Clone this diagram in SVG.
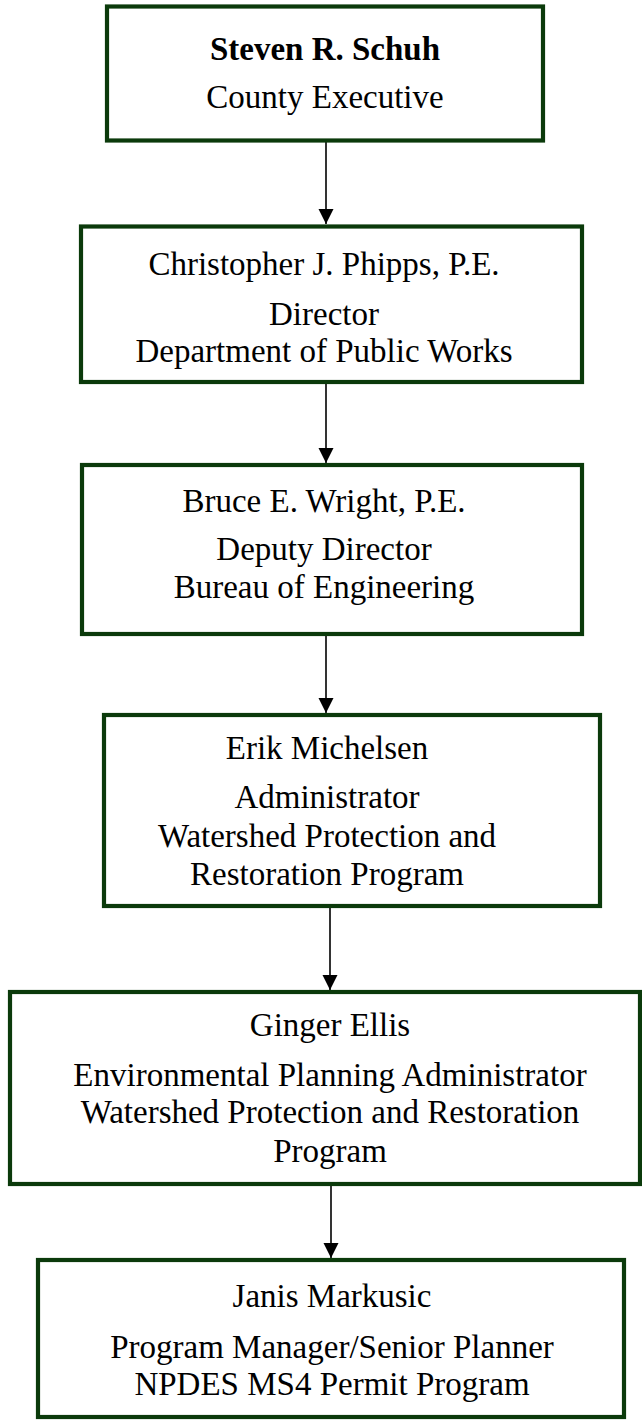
<svg xmlns="http://www.w3.org/2000/svg" width="642" height="1420" viewBox="0 0 642 1420">
<defs>
<style>
.box{fill:#ffffff;stroke:#0b3a0b;stroke-width:4.2}
.t{font-family:"Liberation Serif","Times New Roman",serif;font-size:33px;fill:#000;text-anchor:middle}
.b{font-weight:bold}
.c{stroke:#000;stroke-width:1.6;fill:none}
</style>
<marker id="ah" markerUnits="userSpaceOnUse" markerWidth="16" markerHeight="16" refX="15" refY="7.5" orient="auto">
<path d="M0,0 L15,7.5 L0,15 Z" fill="#000"/>
</marker>
</defs>
<rect width="642" height="1420" fill="#fff"/>
<g id="connectors">
<line class="c" x1="326" y1="142" x2="326" y2="224" marker-end="url(#ah)"/>
<line class="c" x1="326" y1="384" x2="326" y2="463" marker-end="url(#ah)"/>
<line class="c" x1="326" y1="636" x2="326" y2="713" marker-end="url(#ah)"/>
<line class="c" x1="330" y1="908" x2="330" y2="990" marker-end="url(#ah)"/>
<line class="c" x1="331" y1="1186" x2="331" y2="1258" marker-end="url(#ah)"/>
</g>
<g id="n1">
<rect class="box" x="107" y="6.5" width="436" height="134"/>
<text class="t b" x="325" y="60">Steven R. Schuh</text>
<text class="t" x="325" y="108">County Executive</text>
</g>
<g id="n2">
<rect class="box" x="81" y="226.5" width="501" height="155.5"/>
<text class="t" x="324" y="275">Christopher J. Phipps, P.E.</text>
<text class="t" x="324" y="325">Director</text>
<text class="t" x="324" y="362">Department of Public Works</text>
</g>
<g id="n3">
<rect class="box" x="82" y="465" width="500" height="169"/>
<text class="t" x="324" y="512">Bruce E. Wright, P.E.</text>
<text class="t" x="324" y="560">Deputy Director</text>
<text class="t" x="324" y="598">Bureau of Engineering</text>
</g>
<g id="n4">
<rect class="box" x="104" y="715" width="496" height="191"/>
<text class="t" x="327" y="759">Erik Michelsen</text>
<text class="t" x="327" y="808">Administrator</text>
<text class="t" x="327" y="847">Watershed Protection and</text>
<text class="t" x="327" y="885">Restoration Program</text>
</g>
<g id="n5">
<rect class="box" x="10" y="992" width="630" height="192"/>
<text class="t" x="330" y="1036">Ginger Ellis</text>
<text class="t" x="330" y="1086">Environmental Planning Administrator</text>
<text class="t" x="330" y="1123">Watershed Protection and Restoration</text>
<text class="t" x="330" y="1162">Program</text>
</g>
<g id="n6">
<rect class="box" x="38" y="1260" width="586" height="157"/>
<text class="t" x="332" y="1307">Janis Markusic</text>
<text class="t" x="332" y="1358">Program Manager/Senior Planner</text>
<text class="t" x="332" y="1395">NPDES MS4 Permit Program</text>
</g>
</svg>
